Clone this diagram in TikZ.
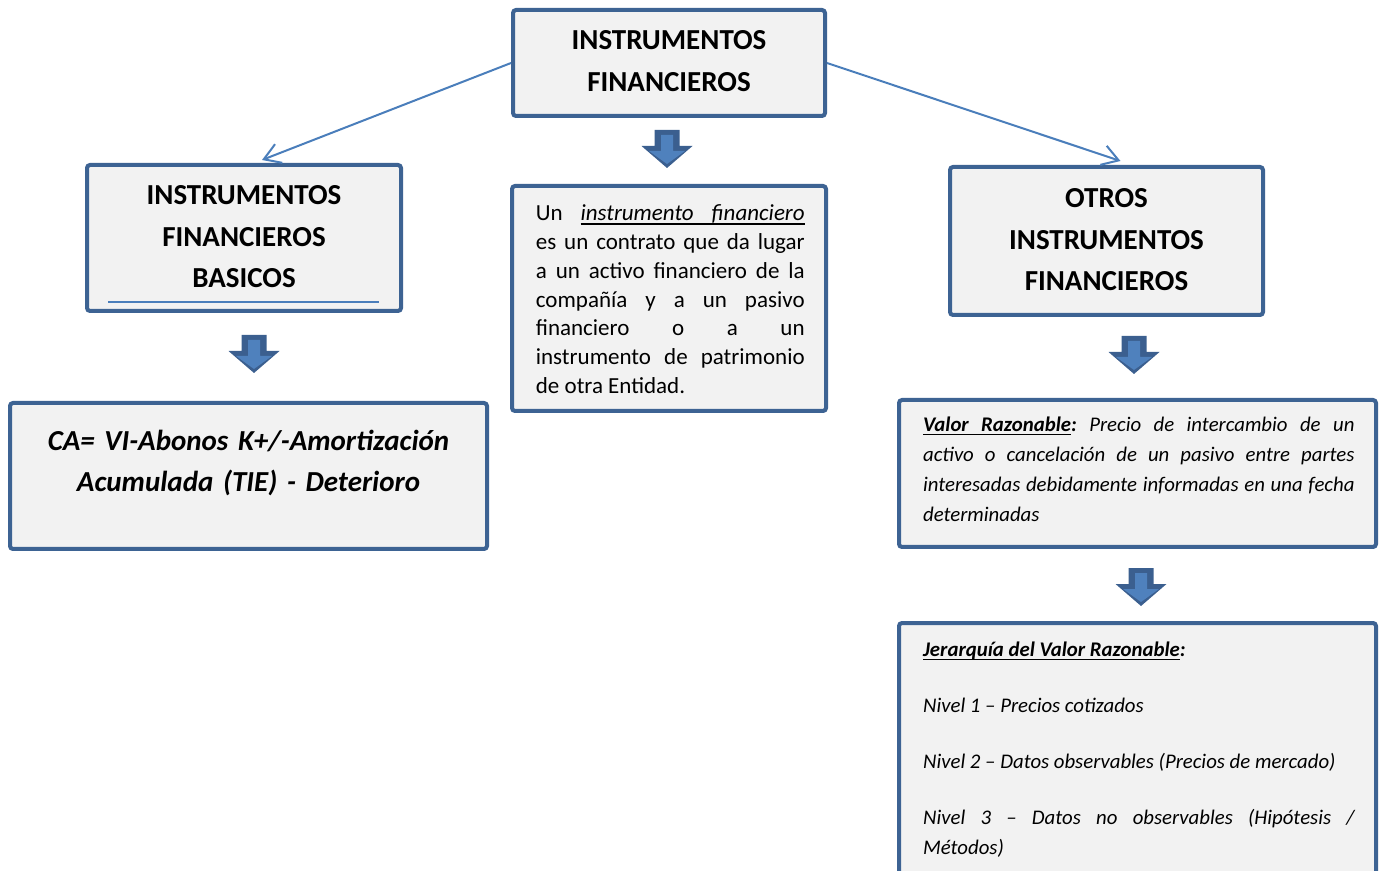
\documentclass[tikz,border=0pt]{standalone}
\usepackage{fontspec}
\setmainfont{Carlito}
\usetikzlibrary{arrows.meta}
\frenchspacing
\definecolor{boxline}{HTML}{3D6393}
\definecolor{boxfill}{HTML}{F2F2F2}
\definecolor{linkblue}{HTML}{4A7EBB}
\definecolor{arrowfill}{HTML}{4F81BD}
\definecolor{arrowline}{HTML}{3B5F8F}
% underlined word and stretchable underlined gap
\newcommand\ulword[1]{\begingroup\setbox0\hbox{#1}\rlap{\vrule height -1.2pt depth 1.8pt width \wd0}\box0\endgroup}
\newcommand\ulgap{\nobreak\leaders\hrule height -1.2pt depth 1.8pt\hskip\fontdimen2\font plus\fontdimen3\font minus\fontdimen4\font\relax}
\tikzset{
	box/.style={draw=boxline, fill=boxfill, line width=2pt, rounded corners=1.5pt, inner sep=0pt},
	headtext/.style={font=\fontsize{14.5}{20.75}\selectfont\bfseries, align=center, text width=150pt, inner sep=0pt, anchor=base},
	bodytext/.style={align=justify, inner sep=0pt, anchor=base west},
	link/.style={draw=linkblue, line width=1pt, -{Straight Barb[length=8pt,width=10pt]}},
	rule/.style={draw=linkblue, line width=0.6pt}
}
\begin{document}
\begin{tikzpicture}[x=0.5pt,y=-0.5pt]
\clip (0,0) rectangle (1382,871);
% Boxes
\node[box, minimum width=156pt, minimum height=53pt] (fin) at (669,63) {};
\node[box, minimum width=157pt, minimum height=73pt] (basic) at (244,238) {};
\node[box, minimum width=157pt, minimum height=112.5pt] (defn) at (669,298.5) {};
\node[box, minimum width=156.5pt, minimum height=74pt] (otros) at (1106.5,241) {};
\node[box, minimum width=238.5pt, minimum height=73pt] (ca) at (248.5,476) {};
\node[box, minimum width=238.5pt, minimum height=73.5pt] (valor) at (1137.5,473.5) {};
\node[box, minimum width=238.5pt, minimum height=138.5pt] (jer) at (1137.5,761.5) {};
% Connectors
\draw[link] (fin.west) -- ([xshift=9pt,yshift=1.5pt]basic.north);
\draw[link] (fin.east) -- ([xshift=7pt,yshift=2pt]otros.north);
\draw[rule] ([xshift=11.5pt,yshift=5.5pt]basic.south west) -- ([xshift=-12pt,yshift=5.5pt]basic.south east);
% Block arrows
\foreach \x/\y in {667/130, 254/335, 1134/336, 1141/568} {
\begin{scope}[shift={(\x,\y)}]
\fill[arrowline] (-12.5,0) -- (12.5,0) -- (12.5,16) -- (25.5,16) -- (0,38) -- (-25.5,16) -- (-12.5,16) -- cycle;
\fill[arrowfill] (-6,5) -- (6,5) -- (6,21) -- (18,21) -- (0,34) -- (-18,21) -- (-6,21) -- cycle;
\end{scope}
}
% Texts
\node[headtext] (fintxt) at (669,50) {INSTRUMENTOS\\FINANCIEROS};
\node[headtext] (basictxt) at (244,205) {INSTRUMENTOS\\FINANCIEROS\\BASICOS};
\node[headtext] (otrostxt) at (1106.5,208) {OTROS\\INSTRUMENTOS\\FINANCIEROS};
\node[headtext, text width=230pt, font=\fontsize{14.5}{20.5}\selectfont\bfseries\itshape] (catxt) at (248.5,450.7) {CA= VI-Abonos K+/-Amortización\\Acumulada (TIE) - Deterioro};
\node[bodytext, text width=134.4pt, font=\fontsize{11.5}{14.35}\selectfont] (defntxt) at (535.5,221) {Un \textit{\ulword{instrumento}\ulgap\ulword{financiero}} \linebreak es un contrato que da lugar \linebreak a un activo financiero de la \linebreak compañía y a un pasivo \linebreak financiero o a un \linebreak instrumento de patrimonio \linebreak de otra Entidad.};
\node[bodytext, text width=215.7pt, font=\fontsize{10.4}{15}\selectfont\itshape] (valortxt) at (922.7,431.7) {\textbf{\ulword{Valor}\ulgap\ulword{Razonable}:} Precio de intercambio de un \linebreak activo o cancelación de un pasivo entre partes \linebreak interesadas debidamente informadas en una fecha \linebreak determinadas};
\node[bodytext, text width=215.7pt, font=\fontsize{10.4}{15}\selectfont\itshape] (jertxt) at (922.7,656.7) {\textbf{\ulword{Jerarquía}\ulgap\ulword{del}\ulgap\ulword{Valor}\ulgap\ulword{Razonable}:}\\[13pt]Nivel 1 – Precios cotizados\\[13pt]Nivel 2 – Datos observables (Precios de mercado)\\[13pt]Nivel 3 – Datos no observables (Hipótesis / \linebreak Métodos)};
\end{tikzpicture}
\end{document}
